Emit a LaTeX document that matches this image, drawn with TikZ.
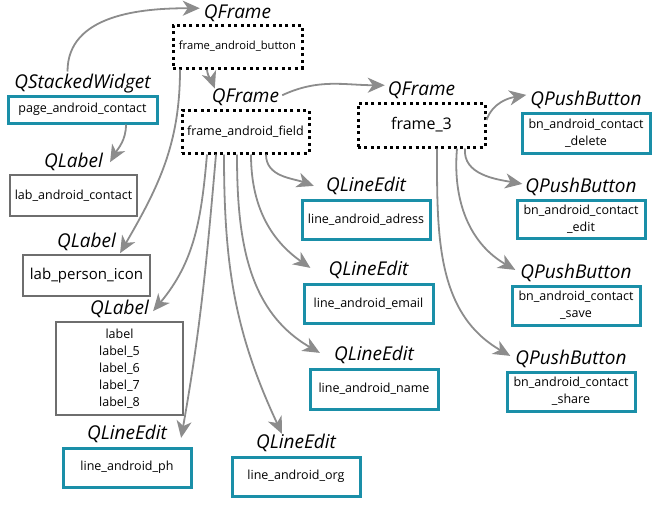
\documentclass[tikz,border=0pt]{standalone}
\usepackage{fontspec}
\setmainfont{Open Sans}
\usetikzlibrary{arrows.meta}
\definecolor{tealb}{HTML}{1A8FA8}
\definecolor{grayb}{HTML}{6E6E6E}
\definecolor{arrg}{HTML}{8C8C8C}
\tikzset{
  cls/.style={font=\fontsize{19}{22}\selectfont\itshape, inner sep=0pt, anchor=base},
  boxtxt/.style={font=\fontsize{12.5}{17}\selectfont, align=center, inner sep=0pt},
  tealbox/.style={boxtxt, draw=tealb, line width=3pt},
  graybox/.style={boxtxt, draw=grayb, line width=2.5pt},
  dotbox/.style={boxtxt, draw=black, line width=3pt, dash pattern=on 3pt off 3.4pt},
  conn/.style={draw=arrg, line width=1.8pt, -{Stealth[length=17pt,width=15pt,inset=5pt]}},
}
\begin{document}
\begin{tikzpicture}[x=1pt,y=-1pt]
\useasboundingbox (0,0) rectangle (659,506);
% boxes
\node[dotbox, minimum width=129pt, minimum height=43pt, font=\fontsize{11.2}{13}\selectfont] (fab) at (237.5,46.5) {frame\_android\_button};
\node[tealbox, minimum width=149pt, minimum height=27pt] (pac) at (82.5,109.5) {page\_android\_contact};
\node[graybox, minimum width=127pt, minimum height=41pt] (lac) at (73.5,195.5) {lab\_android\_contact};
\node[dotbox, minimum width=127pt, minimum height=43pt] (faf) at (245.5,131.5) {frame\_android\_field};
\node[dotbox, minimum width=127pt, minimum height=44pt, font=\fontsize{16}{18}\selectfont] (f3) at (421.5,125) {frame\_3};
\node[tealbox, minimum width=128pt, minimum height=40pt] (del) at (586,133) {bn\_android\_contact\\\_delete};
\node[tealbox, minimum width=128pt, minimum height=38pt] (edit) at (581,219) {bn\_android\_contact\\\_edit};
\node[tealbox, minimum width=128pt, minimum height=39pt] (save) at (576,305.5) {bn\_android\_contact\\\_save};
\node[tealbox, minimum width=128pt, minimum height=39pt] (share) at (571,391.5) {bn\_android\_contact\\\_share};
\node[tealbox, minimum width=128pt, minimum height=39pt] (adr) at (366,219.5) {line\_android\_adress};
\node[tealbox, minimum width=129pt, minimum height=39pt] (email) at (368.5,303.5) {line\_android\_email};
\node[tealbox, minimum width=128pt, minimum height=40pt] (name) at (374,389) {line\_android\_name};
\node[tealbox, minimum width=128pt, minimum height=39pt] (org) at (296,476.5) {line\_android\_org};
\node[tealbox, minimum width=128pt, minimum height=39pt] (ph) at (127,467.5) {line\_android\_ph};
\node[graybox, minimum width=127pt, minimum height=93pt] (labs) at (119.5,368.5) {label\\label\_5\\label\_6\\label\_7\\label\_8};
\node[graybox, minimum width=127pt, minimum height=41pt, font=\fontsize{15}{17}\selectfont] (pers) at (86.5,275.5) {lab\_person\_icon};
% class labels
\node[cls] (lfab) at ([yshift=5pt]fab.north) {QFrame};
\node[cls] (lpac) at ([yshift=6pt]pac.north) {QStackedWidget};
\node[cls] (llac) at ([yshift=6pt]lac.north) {QLabel};
\node[cls] (lfaf) at ([yshift=6pt]faf.north) {QFrame};
\node[cls] (lf3) at ([yshift=6pt]f3.north) {QFrame};
\node[cls] (ldel) at ([yshift=6pt]del.north) {QPushButton};
\node[cls] (ledit) at ([yshift=6pt]edit.north) {QPushButton};
\node[cls] (lsave) at ([yshift=6pt]save.north) {QPushButton};
\node[cls] (lshare) at ([yshift=6pt]share.north) {QPushButton};
\node[cls] (ladr) at ([yshift=7pt]adr.north) {QLineEdit};
\node[cls] (lemail) at ([yshift=7pt]email.north) {QLineEdit};
\node[cls] (lname) at ([yshift=7pt]name.north) {QLineEdit};
\node[cls] (lorg) at ([yshift=7pt]org.north) {QLineEdit};
\node[cls] (lph) at ([yshift=7pt]ph.north) {QLineEdit};
\node[cls] (llabs) at ([yshift=6pt]labs.north) {QLabel};
\node[cls] (lpers) at ([yshift=6pt]pers.north) {QLabel};
% connectors
\draw[conn] ([xshift=-15pt,yshift=17pt]lpac.base) to[out=90,in=180] ([xshift=-4pt,yshift=5pt]lfab.west);
\draw[conn] ([xshift=-30.5pt]fab.south) to[out=-85,in=110] ([xshift=3pt,yshift=0pt]lfaf.north west);
\draw[conn] ([xshift=43.5pt]pac.south) to[out=-90,in=60] ([xshift=7pt,yshift=0pt]llac.east);
\draw[conn] ([xshift=-57.5pt]fab.south) to[out=-90,in=60] ([xshift=4pt,yshift=-2pt]lpers.south east);
\draw[conn] ([xshift=3pt,yshift=2pt]lfaf.east) to[out=25,in=180] ([xshift=-3pt,yshift=5pt]lf3.west);
\draw[conn] ([yshift=5pt]f3.east) to[out=70,in=190] ([xshift=-4pt,yshift=5pt]ldel.west);
\draw[conn] ([xshift=43.5pt]f3.south) to[out=-95,in=170] ([xshift=-3pt,yshift=3pt]ledit.west);
\draw[conn] ([xshift=35.5pt]f3.south) to[out=-95,in=150] ([xshift=-5pt,yshift=3pt]lsave.west);
\draw[conn] ([xshift=15.5pt]f3.south) to[out=-90,in=150] ([xshift=-5pt,yshift=3pt]lshare.west);
\draw[conn] ([xshift=20.5pt]faf.south) to[out=-90,in=160] ([xshift=-12pt,yshift=0pt]ladr.west);
\draw[conn] ([xshift=5.5pt]faf.south) to[out=-90,in=145] ([xshift=-18pt,yshift=2pt]lemail.west);
\draw[conn] ([xshift=-8.5pt]faf.south) to[out=-90,in=150] ([xshift=-14pt,yshift=2pt]lname.west);
\draw[conn] ([xshift=-21.5pt]faf.south) to[out=-90,in=115] ([xshift=-14pt,yshift=0pt]lorg.north);
\draw[conn] ([xshift=-29.5pt]faf.south) to[out=-95,in=80] ([xshift=14pt,yshift=-4pt]lph.east);
\draw[conn] ([xshift=-38.5pt]faf.south) to[out=-95,in=50] ([xshift=4pt,yshift=-2pt]llabs.east);
\end{tikzpicture}
\end{document}
